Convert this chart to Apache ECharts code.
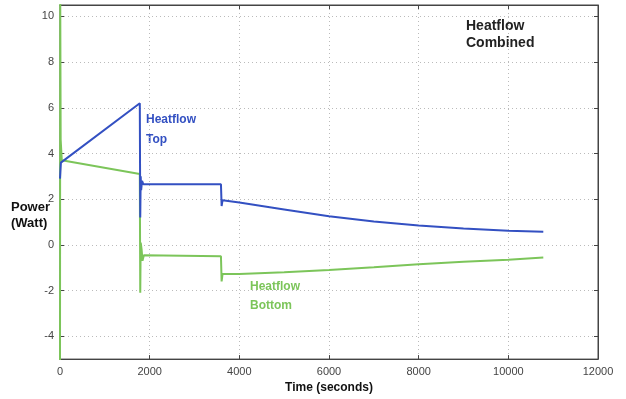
<!DOCTYPE html>
<html><head><meta charset="utf-8">
<script src="https://cdn.jsdelivr.net/npm/echarts@6/dist/echarts.min.js"></script>
<style>html,body{margin:0;padding:0;background:#fff}#c{width:626px;height:399px}</style>
</head><body><div id="c"></div>
<script>
// Time (s) and power (W) samples
const topTime  = [0, 20, 1780, 1790, 1800, 1810, 1830, 1860, 3590, 3605, 3625, 4000, 5000, 6000, 7000, 8000, 9000, 10000, 10780];
const topPower = [2.9, 3.6, 6.2, 1.2, 3.0, 2.4, 2.8, 2.65, 2.65, 1.7, 1.95, 1.85, 1.55, 1.25, 1.02, 0.85, 0.72, 0.62, 0.57];
const botTime  = [0, 5, 15, 40, 1780, 1790, 1800, 1820, 1840, 1870, 1900, 3590, 3605, 3625, 4000, 5000, 6000, 7000, 8000, 9000, 10000, 10780];
const botPower = [-5.3, 11, 4.6, 3.7, 3.1, -2.1, 0.1, -0.2, -0.7, -0.45, -0.5, -0.5, -1.6, -1.28, -1.27, -1.2, -1.1, -0.98, -0.85, -0.74, -0.65, -0.55];
const xTicks = [0, 2000, 4000, 6000, 8000, 10000, 12000];
const yTicks = [-4, -2, 0, 2, 4, 6, 8, 10];

const blue = '#3350c2', green = '#7cc55a';
const pair = (xs, ys) => xs.map((x, i) => [x, ys[i]]);
const font = '"Liberation Sans", Arial, sans-serif';
const chart = echarts.init(document.getElementById('c'));
const gridLine = {show: true, lineStyle: {color: '#bbb', type: [1, 3], width: 1}};
chart.setOption({
  animation: false,
  grid: {left: 60, right: 28, top: 5, bottom: 39, show: true, borderColor: '#444', borderWidth: 1},
  xAxis: [{
    type: 'value', min: 0, max: 12000, interval: 2000,
    axisLine: {show: true, onZero: false, lineStyle: {color: '#444'}},
    axisTick: {inside: true, length: 4, customValues: xTicks, lineStyle: {color: '#444'}},
    axisLabel: {color: '#444', fontSize: 11, fontFamily: font, margin: 7, customValues: xTicks, formatter: v => String(v)},
    splitLine: gridLine,
    name: 'Time (seconds)', nameLocation: 'middle', nameGap: 22,
    nameTextStyle: {fontWeight: 'bold', fontSize: 12, color: '#111', fontFamily: font}
  }, {
    type: 'value', min: 0, max: 12000, interval: 2000, position: 'top',
    axisLine: {show: true, onZero: false, lineStyle: {color: '#444'}},
    axisTick: {inside: true, length: 4, lineStyle: {color: '#444'}},
    axisLabel: {show: false}, splitLine: {show: false}
  }],
  yAxis: [{
    type: 'value', min: -5, max: 10.5,
    axisLine: {show: true, onZero: false, lineStyle: {color: '#444'}},
    axisTick: {inside: true, length: 4, customValues: yTicks, lineStyle: {color: '#444'}},
    axisLabel: {color: '#444', fontSize: 11, fontFamily: font, margin: 6, customValues: yTicks},
    splitLine: gridLine
  }, {
    type: 'value', min: -5, max: 10.5, position: 'right',
    axisLine: {show: true, onZero: false, lineStyle: {color: '#444'}},
    axisTick: {inside: true, length: 4, customValues: yTicks, lineStyle: {color: '#444'}},
    axisLabel: {show: false, customValues: yTicks}, splitLine: {show: false}
  }],
  series: [{
    type: 'line', data: pair(botTime, botPower), showSymbol: false, clip: true,
    lineStyle: {color: green, width: 2}, itemStyle: {color: green}, z: 3
  }, {
    type: 'line', data: pair(topTime, topPower), showSymbol: false, clip: true,
    lineStyle: {color: blue, width: 2}, itemStyle: {color: blue}, z: 4
  }],
  graphic: [
    {type: 'text', left: 146, top: 110, style: {text: 'Heatflow\nTop', fill: blue, font: 'bold 12px ' + font, lineHeight: 20}},
    {type: 'text', left: 250, top: 277, style: {text: 'Heatflow\nBottom', fill: green, font: 'bold 12px ' + font, lineHeight: 19}},
    {type: 'text', left: 466, top: 18, style: {text: 'Heatflow\nCombined', fill: '#222', font: 'bold 14px ' + font, lineHeight: 17}},
    {type: 'text', left: 11, top: 199, style: {text: 'Power\n(Watt)', fill: '#111', font: 'bold 13px ' + font, lineHeight: 16}}
  ]
});
</script></body></html>
